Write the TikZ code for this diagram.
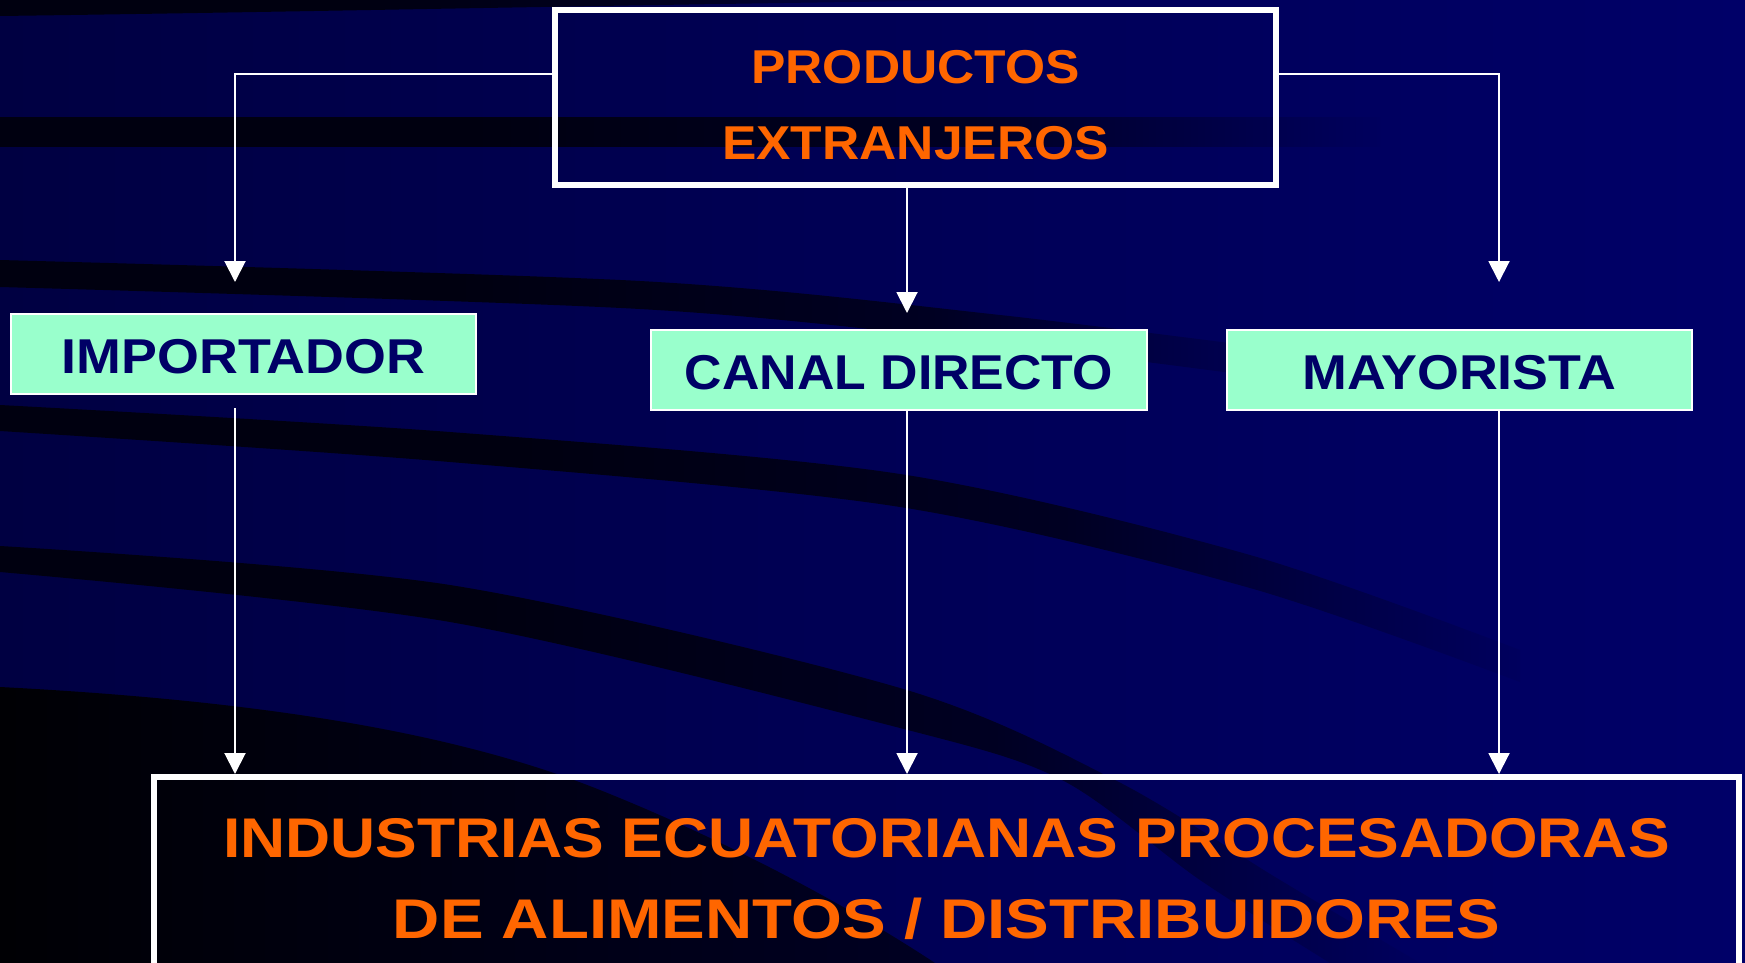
\documentclass[tikz,border=0pt]{standalone}
\usepackage{fontspec}
\setmainfont{Liberation Sans}
\usetikzlibrary{arrows.meta}
\definecolor{bgL}{RGB}{0,0,66}
\definecolor{bgR}{RGB}{0,0,104}
\definecolor{bgM}{RGB}{0,0,94}
\definecolor{bandc}{RGB}{0,0,16}
\definecolor{bandm}{RGB}{0,0,34}
\definecolor{darkL}{RGB}{0,0,4}
\definecolor{darkR}{RGB}{0,0,34}
\definecolor{orng}{RGB}{255,102,0}
\definecolor{mint}{RGB}{153,255,204}
\definecolor{navytxt}{RGB}{0,0,102}
\pgfdeclarehorizontalshading{bandfade}{100bp}{color(0bp)=(bandc); color(25bp)=(bandc); color(42bp)=(bandc); color(60bp)=(bandm); color(75bp)=(bgM); color(100bp)=(bgM)}
\begin{document}
\begin{tikzpicture}[x=1pt,y=-1pt,
  bigbox/.style={draw=white, line width=6pt, inner sep=0pt, text=orng, font=\bfseries},
  midbox/.style={draw=white, line width=2pt, fill=mint, inner sep=0pt, text=navytxt,
    text height=59pt, text depth=21pt, font=\bfseries\fontsize{48.9}{58}\selectfont},
  conn/.style={draw=white, line width=2pt, -{Triangle[length=21pt,width=21pt]}}]
\useasboundingbox (0,0) rectangle (1745,963);
% background
\shade[left color=bgL, right color=bgR] (0,0) rectangle (1745,963);
% swooshes
\shade[shading=bandfade] (0,0) -- (0,16) .. controls (300,12) and (600,5) .. (1000,0) -- cycle;
\shade[shading=bandfade] (0,118) rectangle (1380,147);
\shade[shading=bandfade] plot[smooth] coordinates {(0,260) (640,281) (1000,315) (1330,356)}
  -- plot[smooth] coordinates {(1330,386) (1000,344) (640,309) (0,287)} -- cycle;
\shade[shading=bandfade] plot[smooth] coordinates {(0,405) (450,432) (900,474) (1250,555) (1520,650)}
  -- plot[smooth] coordinates {(1520,682) (1250,588) (900,507) (450,462) (0,431)} -- cycle;
\shade[shading=bandfade] plot[smooth] coordinates {(0,546) (450,585) (900,688) (1115,780) (1280,880) (1420,963)}
  -- plot[smooth] coordinates {(1330,963) (1200,880) (1062,780) (900,728) (450,622) (0,572)} -- cycle;
\shade[left color=darkL, right color=darkR] (0,687) .. controls (250,700) and (450,730) .. (600,790)
  .. controls (750,850) and (870,920) .. (935,963) -- (0,963) -- cycle;
% boxes
\node[bigbox, minimum width=721pt, text height=74pt, text depth=101pt] (top) at (915.5,97.5)
  {\fontsize{47.5}{76}\selectfont\addfontfeature{FakeStretch=1.085}\begin{tabular}[t]{@{}c@{}}PRODUCTOS\\EXTRANJEROS\end{tabular}};
\node[midbox, minimum width=465pt] (imp) at (243.5,354) {\addfontfeature{FakeStretch=1.10}IMPORTADOR};
\node[midbox, minimum width=496pt] (can) at (899,370) {\addfontfeature{FakeStretch=1.06}CANAL DIRECTO};
\node[midbox, minimum width=465pt] (may) at (1459.5,370) {\addfontfeature{FakeStretch=1.10}MAYORISTA};
\node[bigbox, minimum width=1585pt, text height=80pt, text depth=143pt] (bot) at (946.5,888.5)
  {\fontsize{55.9}{81}\selectfont\begin{tabular}[t]{@{}c@{}}\addfontfeature{FakeStretch=1.116}INDUSTRIAS ECUATORIANAS PROCESADORAS\\
   \addfontfeature{FakeStretch=1.17}DE ALIMENTOS / DISTRIBUIDORES\end{tabular}};
% connectors
\coordinate (tL) at (235,282);
\coordinate (tR) at (1499,282);
\coordinate (tM) at (907,313);
\coordinate (sI) at (235,408);
\draw[conn] ([yshift=23.5pt]top.west) -| (tL);
\draw[conn] ([yshift=23.5pt]top.east) -| (tR);
\draw[conn] (top.south -| tM) -- (tM);
\draw[conn] (sI) -- (sI |- bot.north);
\draw[conn] (can.south -| tM) -- (tM |- bot.north);
\draw[conn] (may.south -| tR) -- (tR |- bot.north);
\end{tikzpicture}
\end{document}
